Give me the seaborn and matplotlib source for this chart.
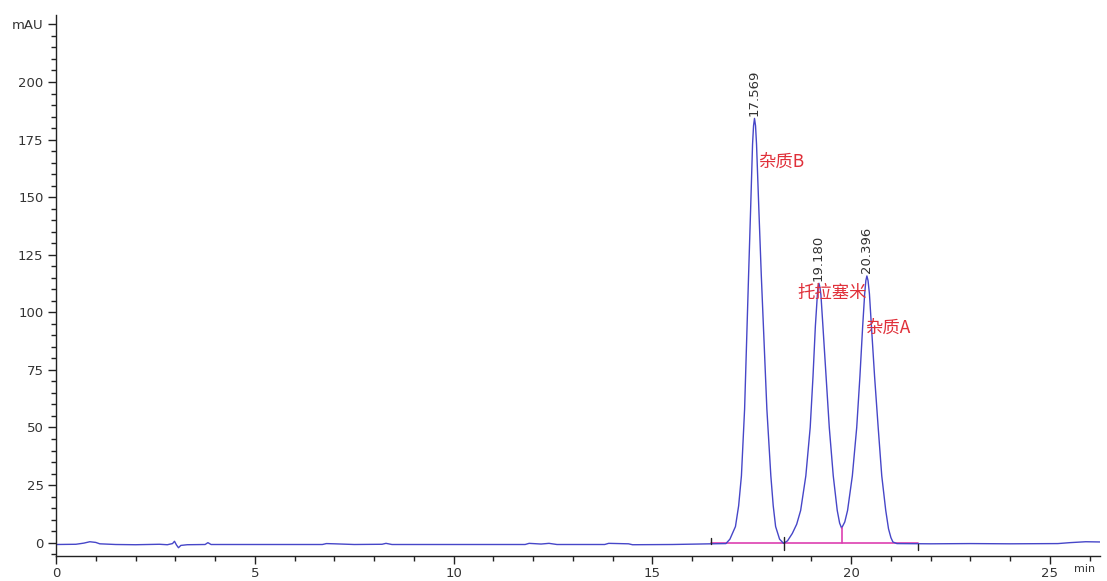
import numpy as np
import pandas as pd
import seaborn as sns
import matplotlib.pyplot as plt
from matplotlib.ticker import MultipleLocator, FixedLocator

# signal trace (time in min, absorbance in mAU)
times = [0.0, 0.5, 0.7, 0.85, 1.0, 1.1, 1.5, 2.0, 2.6, 2.8, 2.93, 2.98, 3.03, 3.08, 3.14,
         3.3, 3.75, 3.82, 3.9, 5.0, 6.7, 6.8, 7.0, 7.5, 8.2, 8.3, 8.45, 11.8, 11.9, 12.2,
         12.4, 12.6, 13.8, 13.9, 14.4, 14.5, 15.5, 16.48, 16.85,
         16.95, 17.09, 17.17, 17.24, 17.32, 17.37, 17.42, 17.47, 17.52, 17.545, 17.569,
         17.595, 17.62, 17.68, 17.74, 17.81, 17.88, 17.98, 18.04, 18.10, 18.20, 18.30,
         18.40, 18.52, 18.63, 18.73, 18.86, 18.97, 19.04, 19.10, 19.15, 19.165, 19.19,
         19.215, 19.24, 19.29, 19.37, 19.45, 19.55, 19.65, 19.71, 19.76,
         19.84, 19.91, 20.03, 20.14, 20.22, 20.29, 20.34, 20.37, 20.396,
         20.425, 20.46, 20.51, 20.59, 20.68, 20.77, 20.87, 20.94, 21.00, 21.05, 21.15,
         22.0, 23.0, 24.0, 25.2, 25.5, 25.9, 26.26]
mau = [-0.8, -0.7, -0.2, 0.4, 0.1, -0.5, -0.8, -0.9, -0.7, -0.9, -0.4, 0.6, -1.0, -2.2, -1.2,
       -0.9, -0.8, 0.0, -0.8, -0.8, -0.8, -0.4, -0.5, -0.8, -0.7, -0.3, -0.8, -0.8, -0.3, -0.6,
       -0.3, -0.8, -0.8, -0.3, -0.5, -0.9, -0.8, -0.5, -0.4,
       1.5, 7.0, 16.0, 29.0, 58.0, 87.0, 116.0, 144.0, 173.0, 181.0, 184.2,
       181.0, 173.0, 144.0, 116.0, 87.0, 58.0, 29.0, 16.0, 7.0, 1.5, -0.3,
       0.8, 4.0, 8.0, 14.0, 29.0, 50.0, 72.0, 94.0, 107.5, 110.8, 112.6,
       110.8, 107.5, 94.0, 72.0, 50.0, 29.0, 14.0, 8.5, 6.3,
       9.0, 14.0, 29.0, 50.0, 72.0, 94.0, 108.0, 113.8, 115.8,
       113.8, 108.0, 94.0, 72.0, 50.0, 29.0, 14.0, 6.0, 2.2, 0.3, -0.4,
       -0.5, -0.4, -0.5, -0.4, 0.0, 0.4, 0.3]

# peak retention times / apex heights
peak_rt = [17.569, 19.180, 20.396]
peak_height = [184.2, 112.6, 115.8]
peak_text = ["17.569", "19.180", "20.396"]

# compound names
names = ["杂质B", "托拉塞米", "杂质A"]
name_x = [17.66, 18.64, 20.35]
name_y = [165.4, 108.4, 93.2]

# integration baseline and events
base_start, base_end = 16.48, 21.68
valley_drop = [19.76, 6.3]
event_ticks = [(16.48, -0.4, 2.2), (18.30, -3.0, 2.5), (21.68, -3.2, -0.4)]

sns.set_theme(style="ticks")
plt.rcParams['font.family'] = ['DejaVu Sans', 'Noto Sans CJK SC']

fig = plt.figure(figsize=(11.07, 5.81), dpi=100)
ax = fig.add_axes([0.0506, 0.043, 0.9431, 0.9312])

df = pd.DataFrame({"time": times, "mAU": mau})
sns.lineplot(data=df, x="time", y="mAU", ax=ax, color="#4646c8", lw=1.0,
             estimator=None, sort=False)

ax.plot([base_start, base_end], [0, 0], color="#dd3fb0", lw=1.2, zorder=1)
ax.plot([valley_drop[0], valley_drop[0]], [0, valley_drop[1]], color="#dd3fb0", lw=1.2)
for t, y0, y1 in event_ticks:
    ax.plot([t, t], [y0, y1], color="#222222", lw=1.0)

for rt, h, s in zip(peak_rt, peak_height, peak_text):
    ax.text(rt, h + 1.2, s, rotation=90, ha="center", va="bottom", fontsize=9.5,
            color="#333333")

for s, x, y in zip(names, name_x, name_y):
    ax.text(x, y, s, ha="left", va="center", fontsize=12.5, color="#e0303a",
            family=['Noto Sans CJK SC'])

ax.set_xlim(0, 26.26)
ax.set_ylim(-5.8, 229.1)
ax.set_xlabel("")
ax.set_ylabel("")

ax.xaxis.set_major_locator(MultipleLocator(5))
ax.xaxis.set_minor_locator(MultipleLocator(1))
ax.yaxis.set_major_locator(FixedLocator([0, 25, 50, 75, 100, 125, 150, 175, 200, 225]))
ax.yaxis.set_minor_locator(MultipleLocator(5))
ax.set_yticklabels(["0", "25", "50", "75", "100", "125", "150", "175", "200", "mAU"])
ax.get_yticklabels()[-1].set_fontsize(8)

ax.tick_params(axis="both", which="major", length=6, width=1, color="#222222",
               labelsize=9.5, labelcolor="#333333")
ax.tick_params(axis="x", which="major", pad=2)
ax.tick_params(axis="y", which="major", pad=3)
ax.tick_params(axis="both", which="minor", length=3.5, width=1, color="#222222")

for side in ["top", "right"]:
    ax.spines[side].set_visible(False)
for side in ["left", "bottom"]:
    ax.spines[side].set_color("#222222")
    ax.spines[side].set_linewidth(1)

ax.annotate("min", xy=(25.88, 0), xycoords=ax.get_xaxis_transform(),
            xytext=(0, -6), textcoords="offset points", ha="center", va="top",
            fontsize=8, color="#333333")

fig.savefig("out.png", dpi=100)
